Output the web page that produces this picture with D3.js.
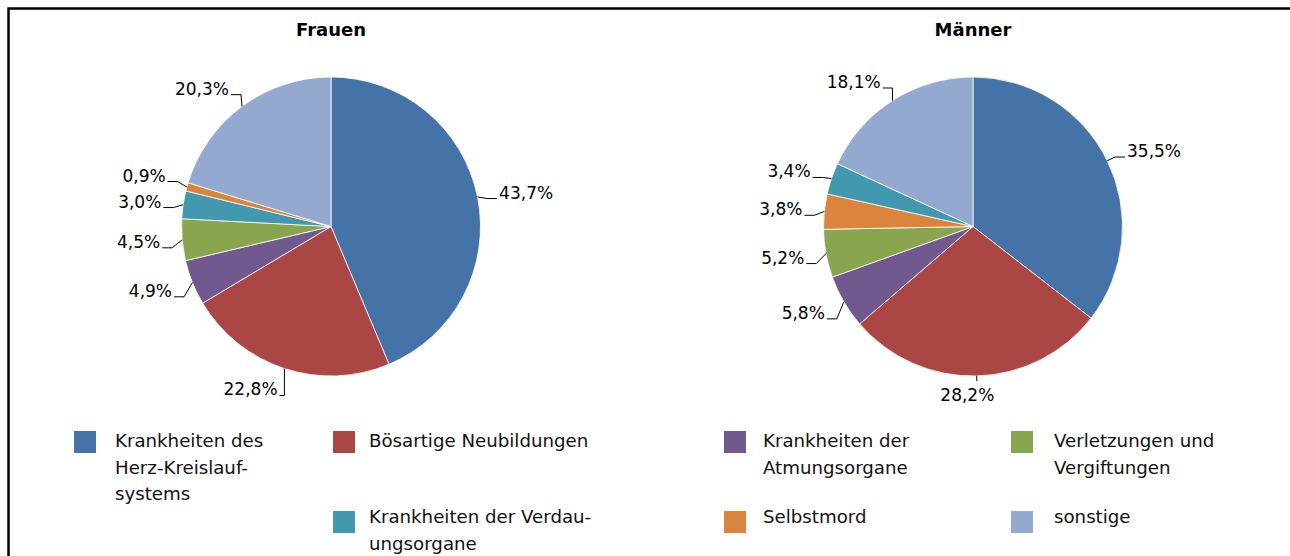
<!DOCTYPE html>
<html>
<head>
<meta charset="utf-8">
<script src="https://cdn.jsdelivr.net/npm/d3@7"></script>
<style>
  html, body { margin: 0; padding: 0; background: #fff; }
  svg { display: block; font-family: "DejaVu Sans", Verdana, sans-serif; }
</style>
</head>
<body>
<svg id="chart" width="1290" height="556"></svg>
<script>
// categories (legend order) and colours
const categories = ['Krankheiten des Herz-Kreislaufsystems', 'Bösartige Neubildungen',
  'Krankheiten der Atmungsorgane', 'Verletzungen und Vergiftungen',
  'Krankheiten der Verdauungsorgane', 'Selbstmord', 'sonstige'];
const colors = ['#4572A7', '#AA4643', '#71588F', '#89A54E', '#4198AF', '#DB843D', '#93A9CF'];

// legend text as it wraps in the picture
const legendLines = [
  ['Krankheiten des', 'Herz-Kreislauf-', 'systems'],
  ['Bösartige Neubildungen'],
  ['Krankheiten der', 'Atmungsorgane'],
  ['Verletzungen und', 'Vergiftungen'],
  ['Krankheiten der Verdau-', 'ungsorgane'],
  ['Selbstmord'],
  ['sonstige']
];

// Frauen, slices clockwise from 12 o'clock
const frauenCats = [0, 1, 2, 3, 4, 5, 6];
const frauenValues = [43.7, 22.8, 4.9, 4.5, 3.0, 0.9, 20.3];

// Männer, slices clockwise from 12 o'clock
const maennerCats = [0, 1, 2, 3, 5, 4, 6];
const maennerValues = [35.5, 28.2, 5.8, 5.2, 3.8, 3.4, 18.1];

const titles = ['Frauen', 'Männer'];

const svg = d3.select('#chart');
const de = d3.formatLocale({decimal: ',', thousands: '.', grouping: [3], currency: ['', '€']});
const fmt = v => de.format('.1f')(v) + '%';

// frame (right and bottom edges run off the picture)
svg.append('rect')
  .attr('x', 8.5).attr('y', 8.5)
  .attr('width', 1300).attr('height', 600)
  .style('fill', 'none').style('stroke', '#000').style('stroke-width', 2.5);

const R = 149.5;
const charts = [
  {title: titles[0], cats: frauenCats, values: frauenValues, cx: 331, cy: 226.5},
  {title: titles[1], cats: maennerCats, values: maennerValues, cx: 973, cy: 226.5}
];

let pie = d3.pie().sort(null).value(d => d.v);
let arc = d3.arc().innerRadius(0).outerRadius(R);

charts.forEach(function(c) {
  let g = svg.append('g').attr('transform', 'translate(' + c.cx + ',' + c.cy + ')');

  g.append('text')
    .attr('x', 0).attr('y', -191)
    .attr('text-anchor', 'middle')
    .style('font-weight', 'bold').style('font-size', '18px')
    .text(c.title);

  let arcs = pie(c.cats.map((k, i) => ({k: k, v: c.values[i]})));

  g.selectAll('path.slice')
    .data(arcs)
    .enter().append('path')
      .classed('slice', true)
      .attr('d', arc)
      .style('fill', d => colors[d.data.k])
      .style('stroke', '#fff')
      .style('stroke-width', 0.8);

  // label anchors just outside the pie
  let labels = arcs.map(function(d) {
    let a = (d.startAngle + d.endAngle) / 2;
    let s = Math.sin(a), co = Math.cos(a);
    return {
      d: d, a: a,
      px: R * s, py: -R * co,
      x: (R + 22) * s, y: -(R + 22) * co,
      side: Math.abs(s) < 0.2 ? 'mid' : (s > 0 ? 'right' : 'left')
    };
  });

  // push apart labels that sit too close on the same side
  ['left', 'right'].forEach(function(side) {
    let ls = labels.filter(l => l.side === side).sort((a, b) => b.y - a.y);
    for (let i = 1; i < ls.length; i++) {
      if (ls[i - 1].y - ls[i].y < 26) ls[i].y = ls[i - 1].y - 26;
    }
  });

  let lg = g.append('g');
  labels.forEach(function(l) {
    let path;
    if (l.side === 'mid') {
      path = [[l.px, l.py], [l.px, l.py + 5]];
      lg.append('text')
        .attr('x', l.x - 10).attr('y', l.y - 3)
        .attr('text-anchor', 'middle')
        .attr('dy', '0.35em')
        .style('font-size', '17px')
        .text(fmt(l.d.data.v));
    } else {
      let dir = l.side === 'right' ? -1 : 1;
      let tx = l.x + dir * 2;
      let ty = l.y + 6;
      let ex = tx + dir * Math.min(10, Math.max(0, (l.px - tx) * dir));
      path = [[l.px, l.py], [ex, ty], [tx, ty]];
      lg.append('text')
        .attr('x', l.x).attr('y', l.y)
        .attr('text-anchor', l.side === 'right' ? 'start' : 'end')
        .attr('dy', '0.35em')
        .style('font-size', '17px')
        .text(fmt(l.d.data.v));
    }
    lg.append('path')
      .attr('d', d3.line()(path))
      .style('fill', 'none').style('stroke', '#000').style('stroke-width', 1);
  });
});

// legend: four columns, the first item is three lines tall so row 2 starts in column 2
const legCols = [74, 333, 724, 1011];
const legTextCols = [115, 369, 763, 1054];
const legRows = [431, 511];
const legTextRows = [447, 523];
const slots = [[0, 0], [1, 0], [2, 0], [3, 0], [1, 1], [2, 1], [3, 1]];

let leg = svg.append('g');
categories.forEach(function(name, i) {
  let col = slots[i][0], r = slots[i][1];
  let item = leg.append('g');
  item.append('rect')
    .attr('x', legCols[col]).attr('y', legRows[r])
    .attr('width', 22).attr('height', 22)
    .style('fill', colors[i]);
  item.selectAll('text')
    .data(legendLines[i])
    .enter().append('text')
      .attr('x', legTextCols[col])
      .attr('y', (d, j) => legTextRows[r] + j * 26.5)
      .style('font-size', '18.2px')
      .style('fill', '#111')
      .text(d => d);
});
</script>
</body>
</html>
